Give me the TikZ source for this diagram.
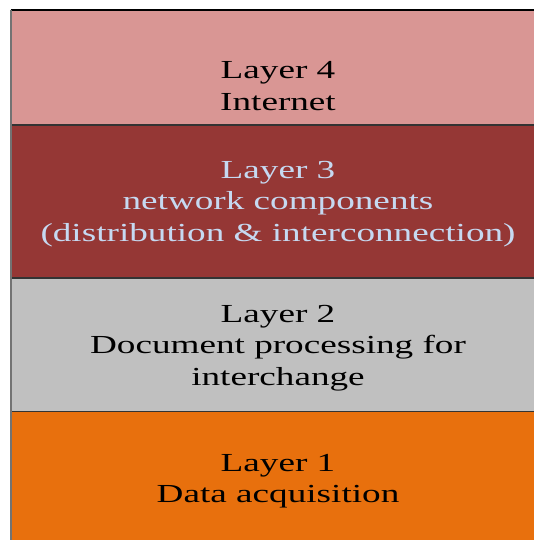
\documentclass[tikz,border=0pt]{standalone}
\usepackage{fontspec}
\setmainfont{Liberation Serif}
\definecolor{lfour}{HTML}{D99694}
\definecolor{lthree}{HTML}{953735}
\definecolor{ltwo}{HTML}{C0C0C0}
\definecolor{lone}{HTML}{E8700D}
\definecolor{lighttext}{HTML}{C6D9F1}
\tikzset{
  layerbox/.style={draw=none, rectangle, inner sep=0pt, anchor=north west, minimum width=536pt},
  layertext/.style={inner sep=0pt, align=center, font=\fontsize{26}{31.5}\selectfont},
  divider/.style={draw=black!80, line width=1.6pt},
}
\newcommand{\wide}[1]{\scalebox{1.43}[1]{#1}}
\begin{document}
\begin{tikzpicture}[x=1pt,y=-1pt]
\useasboundingbox (0,0) rectangle (533,540);
\node[layerbox, fill=lfour, minimum height=114.5pt] (l4) at (10.5,10) {};
\node[layerbox, fill=lthree, minimum height=153pt] (l3) at (10.5,124.5) {};
\node[layerbox, fill=ltwo, minimum height=133.5pt] (l2) at (10.5,277.5) {};
\node[layerbox, fill=lone, minimum height=135pt] (l1) at (10.5,411) {};
\draw[draw=black, line width=1.4pt] (l4.north west) -- (l4.north east);
\draw[divider] (l4.south west) -- (l4.south east);
\draw[divider] (l3.south west) -- (l3.south east);
\draw[divider] (l2.south west) -- (l2.south east);
\draw[draw=black!55, line width=2pt] (l4.north west) -- (l1.south west);
\node[layertext] (t4) at (278,86) {\wide{Layer 4}\\\wide{Internet}};
\node[layertext, text=lighttext] (t3) at (278,204) {\wide{Layer 3}\\\wide{network components}\\\wide{(distribution \& interconnection)}};
\node[layertext] (t2) at (278,348) {\wide{Layer 2}\\\wide{Document processing for}\\\wide{interchange}};
\node[layertext] (t1) at (278,481) {\wide{Layer 1}\\\wide{Data acquisition}};
\end{tikzpicture}
\end{document}
